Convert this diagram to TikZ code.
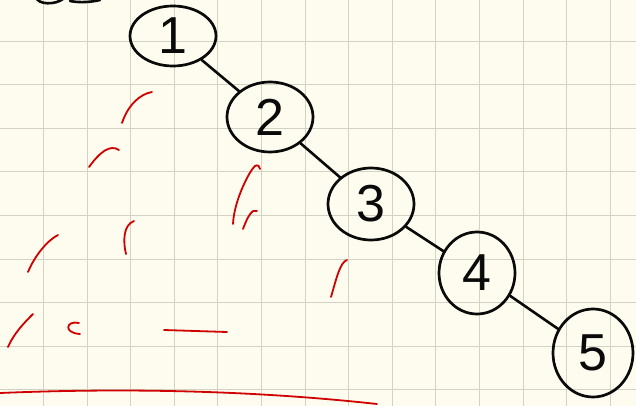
\documentclass[tikz,border=0pt]{standalone}
\usepackage{fontspec}
\usetikzlibrary{shapes.geometric}
\definecolor{paper}{HTML}{FDFCEE}
\definecolor{gridc}{HTML}{D4D2C3}
\definecolor{ink}{HTML}{0A0A0A}
\definecolor{redink}{HTML}{D00000}
\newfontfamily\handfont{Liberation Sans}
\begin{document}
\begin{tikzpicture}[x=1pt,y=-1pt,
  vert/.style={ellipse, draw=ink, line width=2.7pt, inner sep=0pt, text=ink,
    font=\handfont\fontsize{52}{52}\selectfont},
  edge/.style={draw=ink, line width=2.6pt, line cap=round},
  redstroke/.style={draw=redink, line width=1.8pt, line cap=round},
  gridline/.style={draw=gridc, line width=0.9pt}]
\fill[paper] (0,0) rectangle (636,406);
\useasboundingbox (0,0) rectangle (636,406);
\foreach \i in {1,...,14} \draw[gridline] (43.6*\i-0.1,0) -- (43.6*\i-0.1,406);
\foreach \j in {0,...,9} \draw[gridline] (0,41+43.6*\j) -- (636,41+43.6*\j);
% cut-off black strokes at top left
\draw[edge] (36,-3) .. controls (38,5) and (55,5) .. (63,-1);
\draw[edge] (70,1) .. controls (80,3) and (92,2) .. (100,0);
% nodes
\node[vert, minimum width=86, minimum height=60] (n1) at (173,36) {1};
\node[vert, minimum width=86, minimum height=70] (n2) at (270,117) {2};
\node[vert, minimum width=86, minimum height=72] (n3) at (371,204) {3};
\node[vert, minimum width=76, minimum height=82] (n4) at (477,273) {4};
\node[vert, minimum width=80, minimum height=88] (n5) at (593,353) {5};
\draw[edge] (n1) -- (n2);
\draw[edge] (n2) -- (n3);
\draw[edge] (n3) -- (n4);
\draw[edge] (n4) -- (n5);
% red strokes
\draw[redstroke] (122,123) .. controls (128,105) and (140,94) .. (152,92);
\draw[redstroke] (89,167) .. controls (100,152) and (110,144) .. (119,150);
\draw[redstroke] (28,272) .. controls (35,255) and (48,240) .. (58,235);
\draw[redstroke] (8,347) .. controls (14,333) and (25,322) .. (33,314);
\draw[redstroke] (79,323) .. controls (66,320) and (63,333) .. (80,334);
\draw[redstroke] (164,330) -- (227,332);
\draw[redstroke] (134,221) .. controls (123,225) and (123,242) .. (126,254);
\draw[redstroke] (233,224) .. controls (234,200) and (250,170) .. (255,166) .. controls (258,164) and (260,167) .. (260,169);
\draw[redstroke] (243,229) .. controls (247,218) and (252,208) .. (257,211);
\draw[redstroke] (331,297) .. controls (336,280) and (340,262) .. (347,260);
\draw[redstroke] (0,393) .. controls (120,388) and (250,390) .. (377,404);
\end{tikzpicture}
\end{document}
